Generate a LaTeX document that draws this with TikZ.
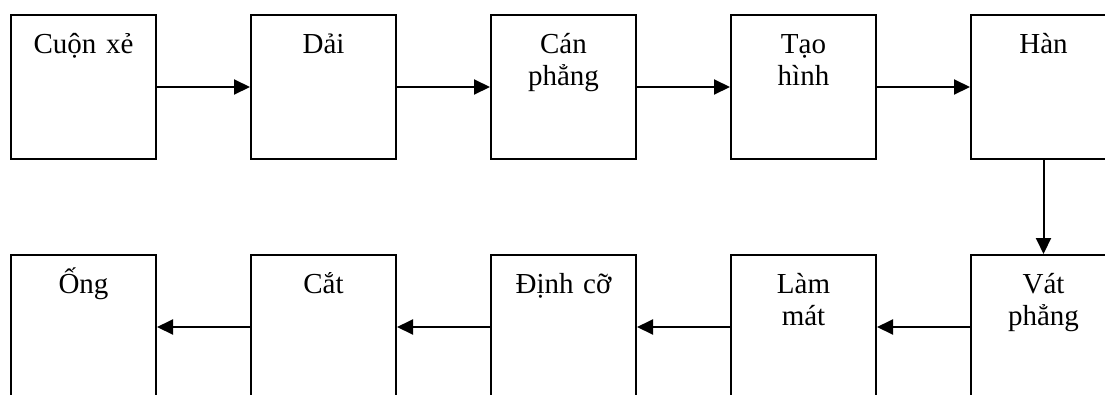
\documentclass[tikz,border=0pt]{standalone}
\usepackage{fontspec}
\setmainfont{Liberation Serif}
\usetikzlibrary{arrows.meta}

\begin{document}
\begin{tikzpicture}[x=1pt,y=-1pt,
  box/.style={draw,line width=2pt,inner sep=0pt,text width=145pt,align=center,
              text height=38pt,text depth=106pt,font=\fontsize{29}{32.5}\selectfont},
  flow/.style={-{Triangle[length=16pt,width=15pt]},line width=2pt},
]
\useasboundingbox (0,0) rectangle (1105,394);
% upper row
\node[box] (coil) at (83.5,87) {Cuộn xẻ};
\node[box] (strip) at (323.5,87) {Dải};
\node[box] (flat) at (563.5,87) {Cán\\phẳng};
\node[box] (form) at (803.5,87) {Tạo\\hình};
\node[box] (weld) at (1043.5,87) {Hàn};
% lower row
\node[box] (bevel) at (1043.5,327) {Vát\\phẳng};
\node[box] (cool) at (803.5,327) {Làm\\mát};
\node[box] (size) at (563.5,327) {Định cỡ};
\node[box] (cut) at (323.5,327) {Cắt};
\node[box] (pipe) at (83.5,327) {Ống};
\draw[flow] (coil) -- (strip);
\draw[flow] (strip) -- (flat);
\draw[flow] (flat) -- (form);
\draw[flow] (form) -- (weld);
\draw[flow] (weld) -- (bevel);
\draw[flow] (bevel) -- (cool);
\draw[flow] (cool) -- (size);
\draw[flow] (size) -- (cut);
\draw[flow] (cut) -- (pipe);
\end{tikzpicture}
\end{document}
